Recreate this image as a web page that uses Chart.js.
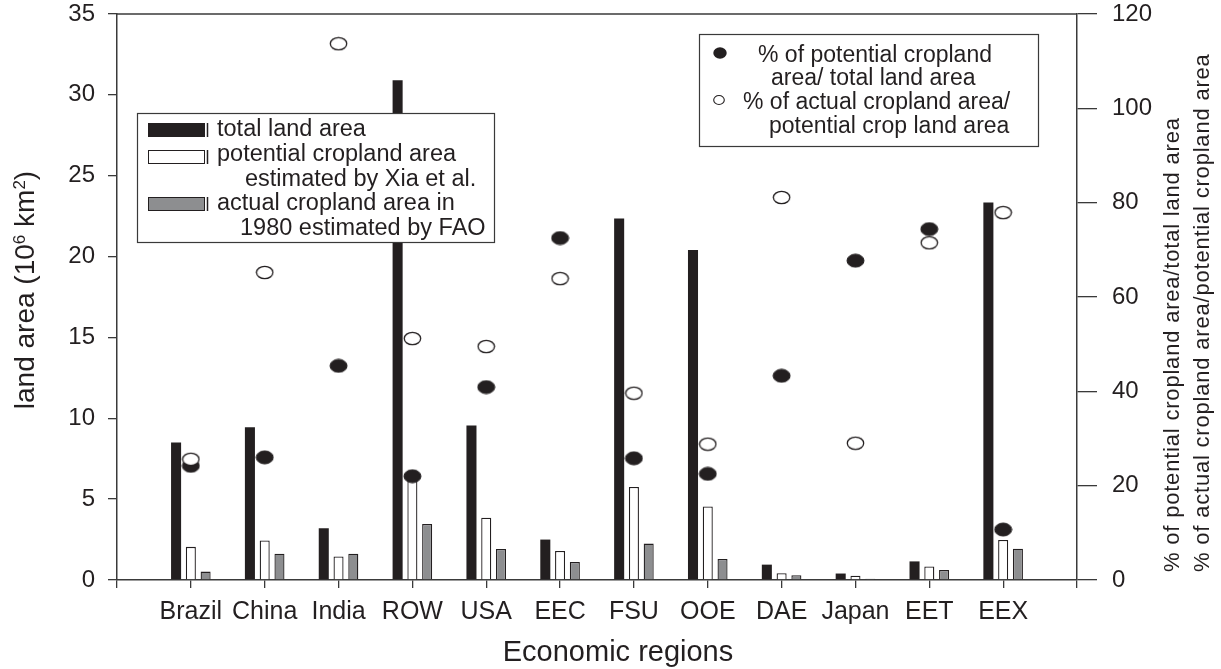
<!DOCTYPE html>
<html lang="en">
<head>
  <meta charset="UTF-8" />
  <title>Land area by economic region</title>
  <script src="https://cdn.jsdelivr.net/npm/chart.js@4.4.1/dist/chart.umd.min.js"></script>
  <style>
    html, body { margin: 0; padding: 0; background: #fff; }
    #wrap { width: 1221px; height: 669px; }
  </style>
</head>
<body>
  <div id="wrap"><canvas id="landChart" width="1221" height="669"></canvas></div>

  <script>
    // values (10^6 km2 and %)
    const regions = ['Brazil', 'China', 'India', 'ROW', 'USA', 'EEC', 'FSU', 'OOE', 'DAE', 'Japan', 'EET', 'EEX'];
    const totalLand     = [8.5, 9.45, 3.2, 30.9, 9.55, 2.5, 22.35, 20.4, 0.95, 0.4, 1.15, 23.35];
    const potentialCrop = [2.05, 2.45, 1.45, 6.6, 3.85, 1.8, 5.75, 4.55, 0.42, 0.27, 0.84, 2.47];
    const actualCrop    = [0.52, 1.62, 1.62, 3.46, 1.92, 1.12, 2.25, 1.3, 0.3, 0.08, 0.62, 1.94];
    const pctPotential  = [24.2, 26.0, 45.4, 22.0, 40.9, 72.5, 25.8, 22.5, 43.3, 67.7, 74.4, 10.7];
    const pctActual     = [25.6, 65.2, 113.7, 51.2, 49.5, 63.9, 39.6, 28.8, 81.1, 29.0, 71.5, 77.9];
    const landTicks = { min: 0, max: 35, step: 5 };
    const pctTicks = { min: 0, max: 120, step: 20 };

    const FONT = "'Liberation Sans', Arial, Helvetica, sans-serif";
    const INK = '#231f20';
    const AXIS = '#3a3a3a';
    const GREY = '#8d8e90';

    // empty slot at each end so the axis runs one category past Brazil and EEX
    const labels = ['', ...regions, ''];
    const pad = arr => [null, ...arr, null];

    // the printed markers are slightly wider than tall
    function ellipseMarker(w, h, fill, stroke, lw) {
      const c = document.createElement('canvas');
      c.width = w;
      c.height = h;
      const g = c.getContext('2d');
      g.beginPath();
      g.ellipse(w / 2, h / 2, w / 2 - lw, h / 2 - lw, 0, 0, Math.PI * 2);
      g.fillStyle = fill;
      g.fill();
      g.lineWidth = lw;
      g.strokeStyle = stroke;
      g.stroke();
      return c;
    }
    const filledDot = ellipseMarker(19, 15, INK, INK, 1);
    const openDot = ellipseMarker(19, 15, '#ffffff', INK, 1.3);

    function text(ctx, str, x, y, size) {
      ctx.font = size + 'px ' + FONT;
      ctx.fillText(str, x, y);
    }

    // fixed frame: plot runs from y=14 to y=580, x=117 to x=1077
    function fixVertical(width) {
      return s => {
        s.width = width;
        s.paddingTop = 14;
        s.paddingBottom = 0;
      };
    }

    const decor = {
      id: 'decor',
      afterDraw(chart) {
        const { ctx, chartArea: a } = chart;
        ctx.save();
        ctx.strokeStyle = AXIS;
        ctx.fillStyle = INK;
        ctx.lineWidth = 1.5;

        // top of the frame
        ctx.beginPath();
        ctx.moveTo(a.left, a.top);
        ctx.lineTo(a.right, a.top);
        ctx.stroke();

        // bar legend
        ctx.fillStyle = '#fff';
        ctx.fillRect(137, 113, 357, 129);
        ctx.lineWidth = 1.2;
        ctx.strokeRect(137.5, 113.5, 357, 129);
        const swatches = [[123, INK], [150, '#fff'], [197, GREY]];
        swatches.forEach(([y, col]) => {
          ctx.fillStyle = col;
          ctx.fillRect(148, y, 57, 14);
          ctx.strokeStyle = INK;
          ctx.lineWidth = 1;
          ctx.strokeRect(148.5, y + 0.5, 56, 13);
          ctx.lineWidth = 1.5;
          ctx.beginPath();
          ctx.moveTo(207.5, y);
          ctx.lineTo(207.5, y + 14);
          ctx.stroke();
        });
        ctx.fillStyle = INK;
        ctx.textAlign = 'left';
        ctx.textBaseline = 'alphabetic';
        text(ctx, 'total land area', 217, 136, 23.5);
        text(ctx, 'potential cropland area', 217, 161, 23.5);
        text(ctx, 'estimated by Xia et al.', 245, 186, 23.5);
        text(ctx, 'actual cropland area in', 217, 210, 23.5);
        text(ctx, '1980 estimated by FAO', 240, 235, 23.5);

        // percentage legend
        ctx.fillStyle = '#fff';
        ctx.fillRect(699, 34, 339, 112);
        ctx.strokeStyle = AXIS;
        ctx.lineWidth = 1.2;
        ctx.strokeRect(699.5, 34.5, 339, 112);
        ctx.fillStyle = INK;
        ctx.beginPath();
        ctx.ellipse(720, 53, 6.7, 5.8, 0, 0, Math.PI * 2);
        ctx.fill();
        ctx.fillStyle = '#fff';
        ctx.strokeStyle = INK;
        ctx.lineWidth = 1.1;
        ctx.beginPath();
        ctx.ellipse(719, 100, 5.3, 4.5, 0, 0, Math.PI * 2);
        ctx.fill();
        ctx.stroke();
        ctx.fillStyle = INK;
        text(ctx, '% of potential cropland', 758, 62, 23);
        text(ctx, 'area/ total land area', 771, 85, 23);
        text(ctx, '% of actual cropland area/', 743, 109, 23);
        text(ctx, 'potential crop land area', 769, 133, 23);

        // x title
        ctx.textAlign = 'center';
        text(ctx, 'Economic regions', 618, 661, 29);

        // left title with superscripts
        const parts = [['land area (10', 28, 0], ['6', 17, -9], [' km', 28, 0], ['2', 17, -9], [')', 28, 0]];
        ctx.save();
        ctx.translate(34, 290);
        ctx.rotate(-Math.PI / 2);
        ctx.textAlign = 'left';
        let total = 0;
        parts.forEach(p => { ctx.font = p[1] + 'px ' + FONT; total += ctx.measureText(p[0]).width; });
        let x = -total / 2;
        parts.forEach(p => {
          ctx.font = p[1] + 'px ' + FONT;
          ctx.fillText(p[0], x, p[2]);
          x += ctx.measureText(p[0]).width;
        });
        ctx.restore();

        // right titles, reading upwards
        ctx.textAlign = 'left';
        ctx.letterSpacing = '0.8px';
        [[1179, '% of potential cropland area/total land area'],
         [1209, '% of actual cropland area/potential cropland area']].forEach(([tx, t]) => {
          ctx.save();
          ctx.translate(tx, 572);
          ctx.rotate(-Math.PI / 2);
          text(ctx, t, 0, 0, 22);
          ctx.restore();
        });
        ctx.restore();
      }
    };

    const ctx = document.getElementById('landChart').getContext('2d');
    new Chart(ctx, {
      type: 'bar',
      data: {
        labels: labels,
        datasets: [
          {
            label: 'total land area',
            data: pad(totalLand),
            backgroundColor: INK,
            borderWidth: 0,
            yAxisID: 'y',
            order: 2
          },
          {
            label: 'potential cropland area estimated by Xia et al.',
            data: pad(potentialCrop),
            backgroundColor: '#ffffff',
            borderColor: INK,
            borderWidth: 1.3,
            yAxisID: 'y',
            order: 2
          },
          {
            label: 'actual cropland area in 1980 estimated by FAO',
            data: pad(actualCrop),
            backgroundColor: GREY,
            borderColor: INK,
            borderWidth: 1.3,
            yAxisID: 'y',
            order: 2
          },
          {
            type: 'line',
            label: '% of potential cropland area/ total land area',
            data: pad(pctPotential),
            yAxisID: 'y2',
            showLine: false,
            pointStyle: filledDot,
            pointRadius: 8,
            order: 1
          },
          {
            type: 'line',
            label: '% of actual cropland area/ potential crop land area',
            data: pad(pctActual),
            yAxisID: 'y2',
            showLine: false,
            pointStyle: openDot,
            pointRadius: 8,
            order: 0
          }
        ]
      },
      options: {
        responsive: false,
        animation: false,
        devicePixelRatio: 1,
        categoryPercentage: 0.6,
        barPercentage: 0.68,
        layout: { padding: 0 },
        plugins: {
          legend: { display: false },
          tooltip: { enabled: false }
        },
        scales: {
          x: {
            type: 'category',
            offset: false,
            grid: { offset: false, drawOnChartArea: false, drawTicks: true, tickLength: 8, color: AXIS, lineWidth: 1.3 },
            border: { display: true, color: AXIS, width: 1.5 },
            ticks: { autoSkip: false, maxRotation: 0, padding: 9, color: INK, font: { family: FONT, size: 25 } },
            afterFit: s => { s.height = 89; }
          },
          y: {
            position: 'left',
            min: landTicks.min,
            max: landTicks.max,
            grid: { drawOnChartArea: false, drawTicks: true, tickLength: 9, color: AXIS, lineWidth: 1.3 },
            border: { display: true, color: AXIS, width: 1.5 },
            ticks: { stepSize: landTicks.step, padding: 13, color: INK, font: { family: FONT, size: 24 } },
            afterFit: fixVertical(117)
          },
          y2: {
            position: 'right',
            min: pctTicks.min,
            max: pctTicks.max,
            grid: { drawOnChartArea: false, drawTicks: true, tickLength: 20, color: AXIS, lineWidth: 1.3 },
            border: { display: true, color: AXIS, width: 1.5 },
            ticks: { stepSize: pctTicks.step, padding: 15, color: INK, font: { family: FONT, size: 24 } },
            afterFit: fixVertical(144)
          }
        }
      },
      plugins: [decor]
    });
  </script>
</body>
</html>
